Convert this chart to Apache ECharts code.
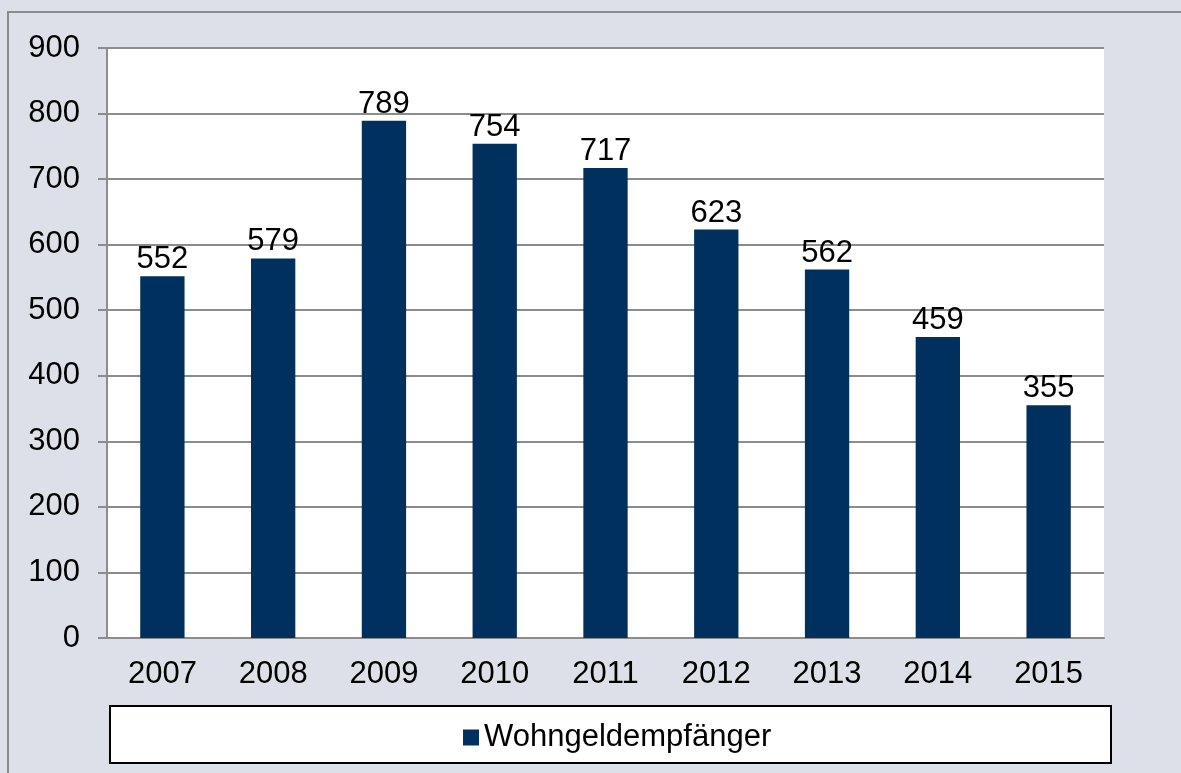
<!DOCTYPE html>
<html>
<head>
<meta charset="utf-8">
<script src="https://cdn.jsdelivr.net/npm/echarts@6/dist/echarts.min.js"></script>
<style>
  html, body { margin: 0; padding: 0; background: #dde0e8; }
  #myChart { width: 1181px; height: 773px; }
</style>
</head>
<body>
<div id="myChart"></div>
<script>
  // Wohngeldempfänger, Jahreswerte
  var years = ['2007', '2008', '2009', '2010', '2011', '2012', '2013', '2014', '2015']
  var empfaenger = [552, 579, 789, 754, 717, 623, 562, 459, 355]
  var seriesName = 'Wohngeldempfänger'

  var font = '"Liberation Sans", Arial, sans-serif'
  var grey = '#8c8c8c'

  var myChart = echarts.init(document.getElementById('myChart'))

  myChart.setOption({
    backgroundColor: '#dde0e8',
    animation: false,
    textStyle: { fontFamily: font },
    graphic: [
      {
        type: 'rect',
        z: -10,
        shape: { x: 8, y: 12, width: 1200, height: 800 },
        style: { fill: 'none', stroke: grey, lineWidth: 2 }
      },
      {
        type: 'rect',
        z: -5,
        shape: { x: 110, y: 706, width: 1001, height: 57 },
        style: { fill: '#ffffff', stroke: '#000000', lineWidth: 2 }
      }
    ],
    grid: {
      left: 107,
      top: 48,
      right: 77,
      bottom: 135,
      show: true,
      backgroundColor: '#ffffff',
      borderWidth: 0
    },
    legend: {
      data: [seriesName],
      left: 458,
      top: 717,
      icon: 'rect',
      itemWidth: 16,
      itemHeight: 16,
      textStyle: { fontSize: 31, color: '#000', fontFamily: font }
    },
    xAxis: {
      type: 'category',
      data: years,
      axisLine: { lineStyle: { color: grey, width: 2 } },
      axisTick: { length: 9, lineStyle: { color: grey, width: 2 } },
      axisLabel: { fontSize: 31, color: '#000', margin: 21 }
    },
    yAxis: {
      type: 'value',
      min: 0,
      max: 900,
      interval: 100,
      axisLine: { show: true, lineStyle: { color: grey, width: 2 } },
      axisTick: { show: true, length: 9, lineStyle: { color: grey, width: 2 } },
      splitLine: { lineStyle: { color: grey, width: 2 } },
      axisLabel: { fontSize: 31, color: '#000', margin: 27 }
    },
    series: [
      {
        name: seriesName,
        type: 'bar',
        data: empfaenger,
        barWidth: '40%',
        itemStyle: { color: '#00305e' },
        label: {
          show: true,
          position: 'top',
          distance: 1,
          fontSize: 31,
          color: '#000'
        }
      }
    ]
  })
</script>
</body>
</html>
